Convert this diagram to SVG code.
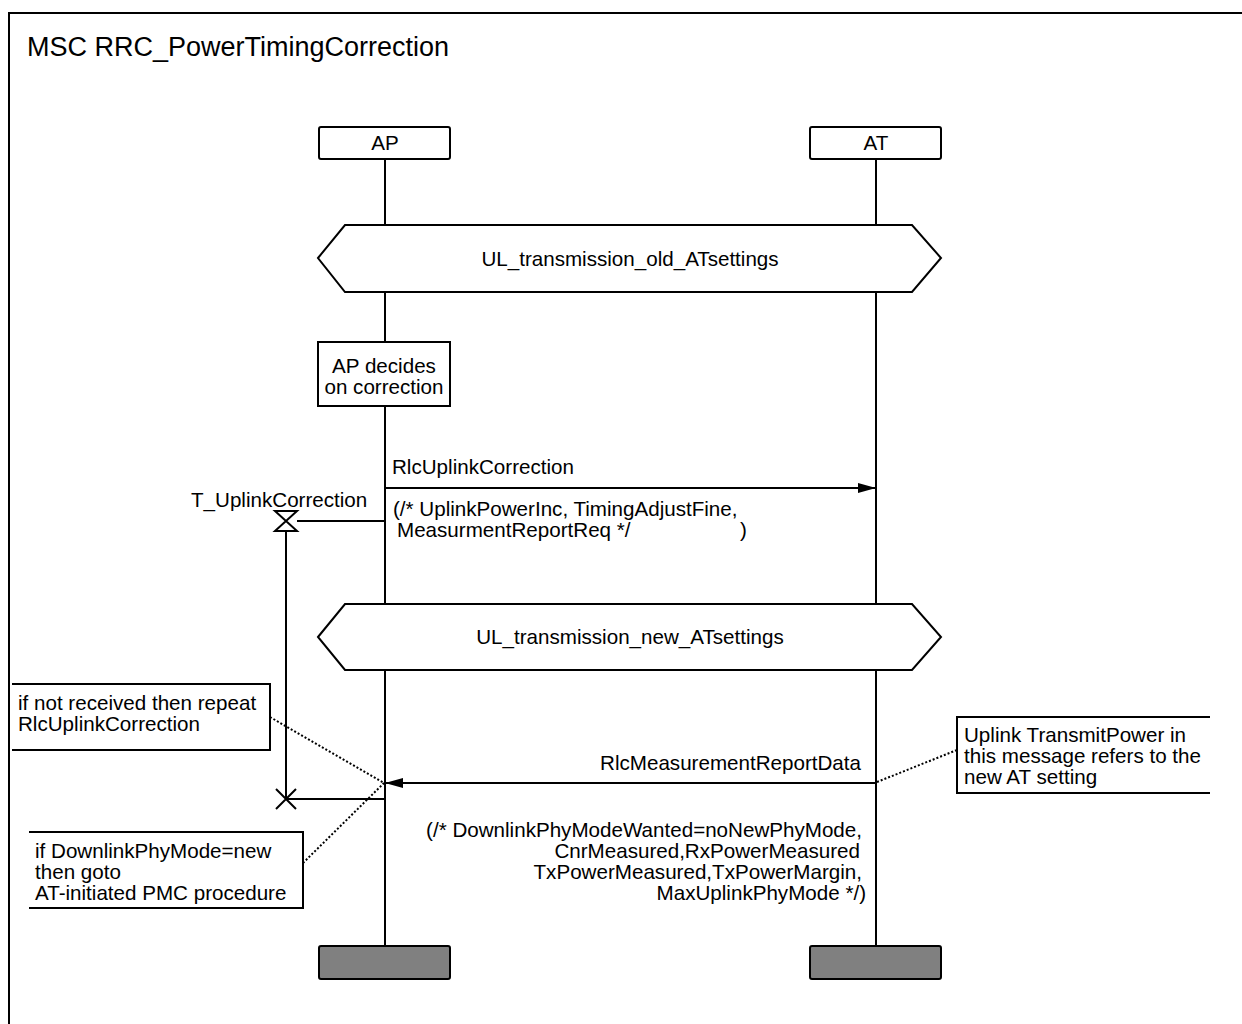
<svg xmlns="http://www.w3.org/2000/svg" width="1242" height="1024" viewBox="0 0 1242 1024">
<style>
text{font-family:"Liberation Sans",Arial,sans-serif;font-size:20.6px;fill:#000}
.title{font-size:27px}
.box{fill:#fff;stroke:#000;stroke-width:2}
.end{fill:#808080;stroke:#000;stroke-width:2}
.life{stroke:#000;stroke-width:2;fill:none}
.msg{stroke:#000;stroke-width:2;fill:none}
.dot{stroke:#000;stroke-width:2;fill:none;stroke-dasharray:2 2}
.mid{text-anchor:middle}
.end-a{text-anchor:end}
</style>
<defs>
<marker id="arr" markerWidth="18" markerHeight="12" refX="18" refY="6" orient="auto" markerUnits="userSpaceOnUse">
<path d="M0,1 L18,6 L0,11 Z" fill="#000"/>
</marker>
</defs>
<rect width="1242" height="1024" fill="#fff"/>
<g id="frame">
<path d="M9,1030 L9,13 L1250,13" fill="none" stroke="#000" stroke-width="2"/>
<text class="title" x="27" y="56">MSC RRC_PowerTimingCorrection</text>
</g>
<g id="lifelines">
<path class="life" d="M385,159 V225 M385,292 V342 M385,406 V604 M385,670 V946"/>
<path class="life" d="M876,159 V225 M876,292 V604 M876,670 V946"/>
</g>
<g id="AP">
<rect class="box" x="319" y="127" width="131" height="32" rx="2"/>
<text class="mid" x="385" y="150">AP</text>
</g>
<g id="AT">
<rect class="box" x="810" y="127" width="131" height="32" rx="2"/>
<text class="mid" x="876" y="150">AT</text>
</g>
<g id="cond_old">
<polygon class="box" points="318,258 345,225 912,225 941,258 912,292 345,292"/>
<text class="mid" x="630" y="266">UL_transmission_old_ATsettings</text>
</g>
<g id="action_decides">
<rect class="box" x="318" y="342" width="132" height="64"/>
<text class="mid" x="384" y="373">AP decides</text>
<text class="mid" x="384" y="394">on correction</text>
</g>
<g id="cond_new">
<polygon class="box" points="318,637 345,604 912,604 941,637 912,670 345,670"/>
<text class="mid" x="630" y="644">UL_transmission_new_ATsettings</text>
</g>
<g id="timer">
<path class="msg" d="M297,521 H385"/>
<path class="msg" d="M275,511 H297 L275,531 H297 Z" fill="#fff"/>
<path class="msg" d="M286,531 V799"/>
<path class="msg" d="M286,799 H385"/>
<path class="msg" d="M276,789 L296,809 M296,789 L276,809"/>
<text x="191" y="507">T_UplinkCorrection</text>
</g>
<g id="connectors">
<path class="msg" d="M385,488 H876" marker-end="url(#arr)"/>
<path class="msg" d="M876,783 H385" marker-end="url(#arr)"/>
<path class="dot" d="M270,717 L384,783"/>
<path class="dot" d="M303,863 L384,783"/>
<path class="dot" d="M877,782 L957,750"/>
</g>
<g id="msg1_labels">
<text x="392" y="474">RlcUplinkCorrection</text>
<text x="393" y="516">(/* UplinkPowerInc, TimingAdjustFine,</text>
<text x="397" y="537">MeasurmentReportReq */</text>
<text x="740" y="537">)</text>
</g>
<g id="msg2_labels">
<text class="end-a" x="861" y="770">RlcMeasurementReportData</text>
<text class="end-a" x="862" y="837">(/* DownlinkPhyModeWanted=noNewPhyMode,</text>
<text class="end-a" x="860" y="858">CnrMeasured,RxPowerMeasured</text>
<text class="end-a" x="862" y="879">TxPowerMeasured,TxPowerMargin,</text>
<text class="end-a" x="866" y="900">MaxUplinkPhyMode */)</text>
</g>
<g id="note_repeat">
<path class="msg" d="M12,684 H270 V750 H12" fill="#fff"/>
<text x="18" y="710">if not received then repeat</text>
<text x="18" y="731">RlcUplinkCorrection</text>
</g>
<g id="note_pmc">
<path class="msg" d="M29,832 H303 V908 H29" fill="#fff"/>
<text x="35" y="858">if DownlinkPhyMode=new</text>
<text x="35" y="879">then goto</text>
<text x="35" y="900">AT-initiated PMC procedure</text>
</g>
<g id="note_txpower">
<path class="msg" d="M1210,717 H957 V793 H1210" fill="#fff"/>
<text x="964" y="742">Uplink TransmitPower in</text>
<text x="964" y="763">this message refers to the</text>
<text x="964" y="784">new AT setting</text>
</g>
<g id="AP_end">
<rect class="end" x="319" y="946" width="131" height="33" rx="2"/>
</g>
<g id="AT_end">
<rect class="end" x="810" y="946" width="131" height="33" rx="2"/>
</g>
</svg>
